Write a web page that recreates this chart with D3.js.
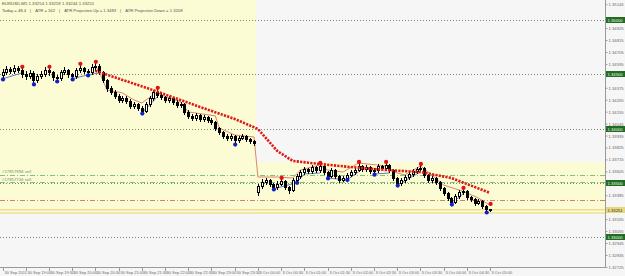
<!DOCTYPE html>
<html><head><meta charset="utf-8">
<script src="https://cdn.jsdelivr.net/npm/d3@7"></script>
<style>html,body{margin:0;padding:0;background:#f6f6f6;overflow:hidden}svg{display:block}</style>
</head><body><svg id="c" width="625" height="276"></svg>
<script>
const symbolTitle = "EURUSD,M5  1.33254 1.33259 1.33244 1.33251";
const infoItems = ["Today = 48.4", "ATR = 162", "ATR Projection Up = 1.3483", "ATR Projection Down = 1.3208"];

const open = [1.34494,1.34521,1.34549,1.34531,1.34558,1.34540,1.34503,1.34484,1.34512,1.34448,
 1.34484,1.34503,1.34540,1.34521,1.34475,1.34466,1.34521,1.34540,1.34503,1.34484,
 1.34540,1.34558,1.34531,1.34521,1.34567,1.34577,1.34521,1.34448,1.34374,1.34337,
 1.34300,1.34263,1.34282,1.34254,1.34208,1.34226,1.34189,1.34162,1.34226,1.34282,
 1.34337,1.34309,1.34291,1.34263,1.34282,1.34245,1.34217,1.34226,1.34153,1.34116,
 1.34097,1.34125,1.34088,1.34106,1.34079,1.34060,1.34005,1.33968,1.33931,1.33913,
 1.33931,1.33894,1.33913,1.33931,1.33904,1.33885,1.33415,1.33470,1.33507,1.33526,
 1.33489,1.33461,1.33489,1.33516,1.33461,1.33433,1.33526,1.33562,1.33599,1.33627,
 1.33609,1.33645,1.33618,1.33655,1.33599,1.33562,1.33618,1.33562,1.33526,1.33544,
 1.33572,1.33599,1.33618,1.33655,1.33627,1.33645,1.33609,1.33618,1.33655,1.33636,
 1.33664,1.33618,1.33544,1.33498,1.33526,1.33553,1.33581,1.33609,1.33627,1.33636,
 1.33572,1.33526,1.33544,1.33507,1.33452,1.33406,1.33360,1.33323,1.33378,1.33415,
 1.33424,1.33369,1.33350,1.33314,1.33332,1.33286,1.33254];
const high = [1.34549,1.34577,1.34567,1.34586,1.34577,1.34558,1.34531,1.34540,1.34531,1.34503,
 1.34531,1.34567,1.34558,1.34531,1.34494,1.34540,1.34567,1.34549,1.34512,1.34558,
 1.34586,1.34567,1.34549,1.34595,1.34604,1.34595,1.34531,1.34457,1.34392,1.34355,
 1.34318,1.34300,1.34300,1.34272,1.34245,1.34235,1.34208,1.34245,1.34300,1.34355,
 1.34365,1.34328,1.34300,1.34300,1.34291,1.34263,1.34245,1.34235,1.34171,1.34134,
 1.34143,1.34134,1.34125,1.34116,1.34097,1.34070,1.34014,1.33977,1.33950,1.33950,
 1.33940,1.33931,1.33950,1.33940,1.33913,1.33894,1.33489,1.33535,1.33544,1.33535,
 1.33498,1.33516,1.33535,1.33526,1.33470,1.33544,1.33581,1.33618,1.33645,1.33636,
 1.33664,1.33655,1.33673,1.33664,1.33609,1.33636,1.33627,1.33572,1.33562,1.33590,
 1.33618,1.33636,1.33682,1.33664,1.33664,1.33655,1.33636,1.33673,1.33664,1.33682,
 1.33673,1.33627,1.33553,1.33544,1.33572,1.33599,1.33627,1.33645,1.33664,1.33645,
 1.33581,1.33562,1.33553,1.33516,1.33461,1.33415,1.33369,1.33397,1.33433,1.33443,
 1.33433,1.33378,1.33360,1.33350,1.33341,1.33295,1.33259];
const low = [1.34457,1.34503,1.34512,1.34512,1.34521,1.34475,1.34457,1.34466,1.34411,1.34429,
 1.34466,1.34484,1.34494,1.34448,1.34438,1.34448,1.34503,1.34475,1.34457,1.34466,
 1.34521,1.34512,1.34494,1.34503,1.34540,1.34503,1.34429,1.34346,1.34318,1.34282,
 1.34245,1.34245,1.34235,1.34189,1.34189,1.34171,1.34143,1.34153,1.34208,1.34263,
 1.34291,1.34272,1.34245,1.34245,1.34226,1.34199,1.34199,1.34134,1.34097,1.34079,
 1.34079,1.34070,1.34070,1.34060,1.34042,1.33987,1.33950,1.33913,1.33894,1.33894,
 1.33857,1.33876,1.33904,1.33885,1.33867,1.33848,1.33387,1.33452,1.33489,1.33470,
 1.33443,1.33443,1.33479,1.33443,1.33406,1.33424,1.33507,1.33544,1.33581,1.33590,
 1.33590,1.33599,1.33599,1.33581,1.33544,1.33553,1.33544,1.33507,1.33516,1.33526,
 1.33562,1.33581,1.33609,1.33609,1.33609,1.33590,1.33581,1.33599,1.33618,1.33618,
 1.33599,1.33526,1.33479,1.33479,1.33507,1.33535,1.33562,1.33590,1.33609,1.33553,
 1.33507,1.33507,1.33489,1.33433,1.33387,1.33341,1.33304,1.33314,1.33360,1.33397,
 1.33350,1.33332,1.33295,1.33304,1.33267,1.33231,1.33244];
const close = [1.34521,1.34549,1.34531,1.34558,1.34540,1.34503,1.34484,1.34512,1.34448,1.34484,
 1.34503,1.34540,1.34521,1.34475,1.34466,1.34521,1.34540,1.34503,1.34484,1.34540,
 1.34558,1.34531,1.34521,1.34567,1.34577,1.34521,1.34448,1.34374,1.34337,1.34300,
 1.34263,1.34282,1.34254,1.34208,1.34226,1.34189,1.34162,1.34226,1.34282,1.34337,
 1.34309,1.34291,1.34263,1.34282,1.34245,1.34217,1.34226,1.34153,1.34116,1.34097,
 1.34125,1.34088,1.34106,1.34079,1.34060,1.34005,1.33968,1.33931,1.33913,1.33931,
 1.33894,1.33913,1.33931,1.33904,1.33885,1.33867,1.33470,1.33507,1.33526,1.33489,
 1.33461,1.33489,1.33516,1.33461,1.33433,1.33526,1.33562,1.33599,1.33627,1.33609,
 1.33645,1.33618,1.33655,1.33599,1.33562,1.33618,1.33562,1.33526,1.33544,1.33572,
 1.33599,1.33618,1.33655,1.33627,1.33645,1.33609,1.33618,1.33655,1.33636,1.33664,
 1.33618,1.33544,1.33498,1.33526,1.33553,1.33581,1.33609,1.33627,1.33636,1.33572,
 1.33526,1.33544,1.33507,1.33452,1.33406,1.33360,1.33323,1.33378,1.33415,1.33424,
 1.33369,1.33350,1.33314,1.33332,1.33286,1.33254,1.33251];

const xTickBars = [0,6,12,18,24,30,36,42,48,54,60,66,72,78,84,90,96,102,108,114,120,126];
const xTickLabels = ["30 Sep 2011","30 Sep 19:00","30 Sep 19:30","30 Sep 20:00","30 Sep 20:30","30 Sep 21:00",
 "30 Sep 21:30","30 Sep 22:00","30 Sep 22:30","30 Sep 23:00","30 Sep 23:30","3 Oct 00:00","3 Oct 00:30",
 "3 Oct 01:00","3 Oct 01:30","3 Oct 02:00","3 Oct 02:30","3 Oct 03:00","3 Oct 03:30","3 Oct 04:00",
 "3 Oct 04:30","3 Oct 05:00"];
const yTickValues = [1.35145,1.35035,1.34925,1.34815,1.34705,1.34595,1.34485,1.34375,1.34265,1.34155,
 1.34045,1.33935,1.33825,1.33715,1.33605,1.33495,1.33385,1.33275,1.33165,1.33055,1.32945,1.32835,1.32725];

const roundLevels = [1.3500,1.3450,1.3400,1.3350,1.3300];
const orderLevels = [1.33572,1.33507];
const orderLabels = ["#17857994 sell","#17857734 sell"];
const stopLevels = [1.33341];
const priceLines = [1.33251,1.33222];
const bidLabel = "1.33251";

const dayBoxes = [{from:-1, to:65.5, top:1.3530, bottom:1.33240},
                  {from:65.5, to:160, top:1.33692, bottom:1.33231}];

const upFractals = [[5,1.34568],[12,1.34568],[20,1.34596],[24,1.34614],[40,1.34375],[72,1.33545],
 [82,1.33683],[92,1.33692],[99,1.33692],[108,1.33674],[119,1.33453],[126,1.33305]];
const downFractals = [[0,1.34452],[8,1.34406],[14,1.34433],[18,1.34452],[22,1.34489],[36,1.34138],
 [60,1.33852],[70,1.33438],[76,1.33500],[84,1.33540],[89,1.33526],[96,1.33575],[102,1.33474],
 [116,1.33299],[125,1.33226]];

const atrStop = [[24,1.34531],[38,1.34365],[51,1.34199],[60,1.34088],[66,1.33996],[71,1.33793],
 [75,1.33701],[82,1.33673],[90,1.33645],[99,1.33618],[108,1.33599],[116,1.33544],[126,1.33406]];

const upperTrail = [[24,1.34577],[25,1.34521],[27,1.34355],[31,1.34328],[34,1.34263],[36,1.34235],
 [40,1.34337],[41,1.34309],[46,1.34245],[48,1.34153],[55,1.34116],[56,1.34005],[60,1.33940],
 [65,1.33922],[66,1.33553],[71,1.33553],[75,1.33544],[77,1.33618],[82,1.33664],[84,1.33618],
 [88,1.33599],[92,1.33682],[99,1.33655],[101,1.33599],[104,1.33572],[108,1.33655],[110,1.33599],
 [114,1.33479],[118,1.33433],[120,1.33406],[123,1.33360],[125,1.33314],[126,1.33295]];

const lowerTrail = [
 [[0,1.34457],[5,1.34512]],
 [[18,1.34457],[22,1.34494],[25,1.34512]],
 [[36,1.34143],[40,1.34291]],
 [[70,1.33443],[76,1.33500],[78,1.33581],[82,1.33590]],
 [[84,1.33544],[89,1.33526],[92,1.33600]],
 [[96,1.33581],[100,1.33590]],
 [[102,1.33479],[106,1.33560],[108,1.33600]],
 [[116,1.33304],[119,1.33400]]
];

const W = 625, H = 276, PR = 605, PB = 267;
const FONT = "'Liberation Sans', Arial, sans-serif";
const svg = d3.select("#c");
const x = d3.scaleLinear().domain([0,126]).range([2.5,490.1]);
const y = d3.scaleLinear().domain([1.32724,1.35184]).range([PB,0]);

svg.append("rect").attr("width",W).attr("height",H).attr("fill","#f6f6f6");
svg.append("defs").append("clipPath").attr("id","pc").append("rect")
  .attr("x",0).attr("y",0).attr("width",PR).attr("height",PB);
const g = svg.append("g").attr("clip-path","url(#pc)");

// day range boxes
g.selectAll(".day").data(dayBoxes).enter().append("rect")
  .attr("x",d=>Math.max(0,x(d.from))).attr("y",d=>y(d.top))
  .attr("width",d=>Math.min(PR,x(d.to))-Math.max(0,x(d.from)))
  .attr("height",d=>y(d.bottom)-y(d.top)).attr("fill","#fbfbd4");

// round levels
g.selectAll(".rl").data(roundLevels).enter().append("line")
  .attr("x1",0).attr("x2",PR).attr("y1",d=>Math.round(y(d))+0.5).attr("y2",d=>Math.round(y(d))+0.5)
  .attr("stroke","#6f8f62").attr("stroke-width",1).attr("stroke-dasharray","1,2");

// order lines
g.selectAll(".ol").data(orderLevels).enter().append("line")
  .attr("x1",0).attr("x2",PR).attr("y1",d=>Math.round(y(d))+0.5).attr("y2",d=>Math.round(y(d))+0.5)
  .attr("stroke","#7cc47c").attr("stroke-width",1).attr("stroke-dasharray","5,2,1,2");
g.selectAll(".sl").data(stopLevels).enter().append("line")
  .attr("x1",0).attr("x2",PR).attr("y1",d=>Math.round(y(d))+0.5).attr("y2",d=>Math.round(y(d))+0.5)
  .attr("stroke","#d47f6f").attr("stroke-width",1).attr("stroke-dasharray","5,2,1,2");
g.selectAll(".pl").data(priceLines).enter().append("line")
  .attr("x1",0).attr("x2",PR).attr("y1",d=>y(d)).attr("y2",d=>y(d))
  .attr("stroke","#ece08c").attr("stroke-width",1.6);
g.selectAll(".olt").data(orderLabels).enter().append("text")
  .attr("x",2).attr("y",(d,i)=>y(orderLevels[i])-1.5).text(d=>d)
  .attr("font-family",FONT).attr("font-size",4.3).attr("fill","#7a8a7a");

// trailing lines
const line = d3.line().x(d=>x(d[0])).y(d=>y(d[1]));
g.append("path").attr("d",line(upperTrail)).attr("fill","none")
  .attr("stroke","#d9886a").attr("stroke-width",1);
g.selectAll(".lt").data(lowerTrail).enter().append("path").attr("d",d=>line(d))
  .attr("fill","none").attr("stroke","#6a78c8").attr("stroke-width",1);

// candles
const idx = d3.range(close.length);
const cg = g.append("g");
idx.forEach(i=>{
  const cx = Math.round(x(i));
  cg.append("line").attr("x1",cx+0.5).attr("x2",cx+0.5)
    .attr("y1",Math.round(y(high[i]))).attr("y2",Math.round(y(low[i]))+1)
    .attr("stroke","#000").attr("stroke-width",1);
  const yo = Math.round(y(open[i])), yc = Math.round(y(close[i]));
  if (close[i] < open[i]) {
    cg.append("rect").attr("x",cx-1).attr("y",yo).attr("width",3).attr("height",Math.max(1,yc-yo+1))
      .attr("fill","#000");
  } else {
    const hgt = Math.max(0, yo-yc);
    cg.append("rect").attr("x",cx-0.5).attr("y",yc+0.5).attr("width",2).attr("height",hgt)
      .attr("fill","#fff").attr("stroke","#000").attr("stroke-width",1);
  }
});

// ATR stop line
g.append("path").attr("d",line(atrStop)).attr("fill","none")
  .attr("stroke","#e01818").attr("stroke-width",2.6).attr("stroke-dasharray","2.2,1.2");

// fractal dots
g.selectAll(".uf").data(upFractals).enter().append("circle")
  .attr("cx",d=>x(d[0])+0.5).attr("cy",d=>y(d[1])).attr("r",2.1).attr("fill","#e21010");
g.selectAll(".df").data(downFractals).enter().append("circle")
  .attr("cx",d=>x(d[0])+0.5).attr("cy",d=>y(d[1])).attr("r",2.1).attr("fill","#1020c8");

// header texts
svg.append("text").attr("x",2).attr("y",5).text(symbolTitle)
  .attr("font-family",FONT).attr("font-size",4.3).attr("fill","#555");
let cur = 2;
infoItems.forEach((t,i)=>{
  const tx = svg.append("text").attr("x",cur).attr("y",12).text(t)
    .attr("font-family",FONT).attr("font-size",4.2).attr("fill","#555");
  cur += tx.node().getComputedTextLength() + 4;
  if (i < infoItems.length-1) {
    const sp = svg.append("text").attr("x",cur).attr("y",12).text("|")
      .attr("font-family",FONT).attr("font-size",4.2).attr("fill","#555");
    cur += sp.node().getComputedTextLength() + 4;
  }
});

// axes frame
svg.append("line").attr("x1",PR+0.5).attr("x2",PR+0.5).attr("y1",0).attr("y2",PB+0.5)
  .attr("stroke","#9a9a9a");
svg.append("line").attr("x1",0).attr("x2",PR+0.5).attr("y1",PB+0.5).attr("y2",PB+0.5)
  .attr("stroke","#9a9a9a");

// y axis (labels hidden under the level boxes are skipped)
const boxLevels = roundLevels.concat([priceLines[0]]);
const shownTicks = yTickValues.filter(v => boxLevels.every(b => Math.abs(y(v)-y(b)) > 4.5));
const yAxis = d3.axisRight(y).tickValues(shownTicks).tickSize(2).tickFormat(d3.format(".5f"));
const ya = svg.append("g").attr("transform",`translate(${PR+0.5},0)`).call(yAxis);
ya.select(".domain").remove();
ya.selectAll("line").attr("stroke","#9a9a9a");
ya.selectAll("text").attr("font-family",FONT).attr("font-size",4.2).attr("fill","#6a6a6a").attr("x",3).attr("dy","0.35em");

// green round-level boxes
const gb = svg.selectAll(".gb").data(roundLevels).enter().append("g")
  .attr("transform",d=>`translate(${PR+1},${Math.round(y(d))-3})`);
gb.append("rect").attr("width",19).attr("height",6).attr("fill","#236b23");
gb.append("text").attr("x",1.5).attr("y",4.6).text(d=>d3.format(".5f")(d))
  .attr("font-family",FONT).attr("font-size",4.2).attr("fill","#e8ffe8");
// bid box
const bb = svg.append("g").attr("transform",`translate(${PR+1},${Math.round(y(priceLines[0]))-3})`);
bb.append("rect").attr("width",19).attr("height",6).attr("fill","#e6d77c");
bb.append("text").attr("x",1.5).attr("y",4.6).text(bidLabel)
  .attr("font-family",FONT).attr("font-size",4.2).attr("fill","#333");

// x axis
const xa = svg.append("g");
xa.selectAll(".xt").data(xTickBars).enter().append("line")
  .attr("x1",d=>Math.round(x(d))+0.5).attr("x2",d=>Math.round(x(d))+0.5)
  .attr("y1",PB).attr("y2",PB+4).attr("stroke","#9a9a9a");
xa.selectAll(".xl").data(xTickBars).enter().append("text")
  .attr("x",d=>Math.round(x(d))+1.5).attr("y",PB+7).text((d,i)=>xTickLabels[i])
  .attr("font-family",FONT).attr("font-size",4).attr("fill","#6a6a6a");
</script></body></html>
